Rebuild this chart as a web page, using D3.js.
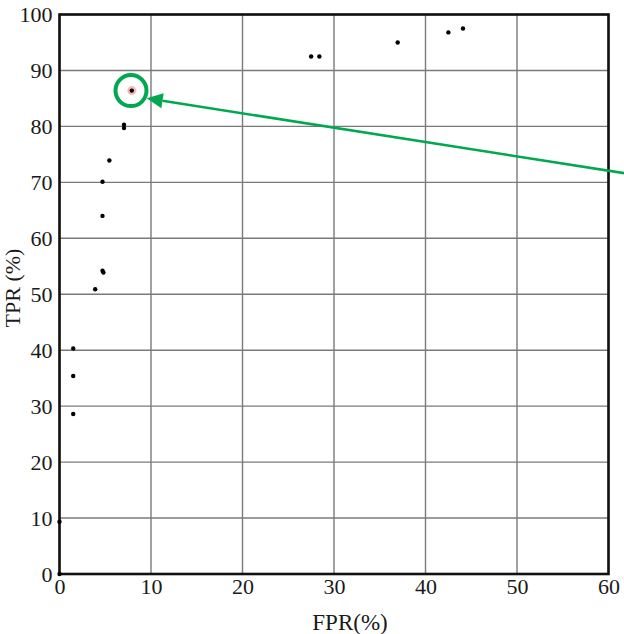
<!DOCTYPE html>
<html><head><meta charset="utf-8">
<script src="https://cdn.jsdelivr.net/npm/d3@7"></script>
<style>body{margin:0;background:#fff}svg{display:block}svg text{font-family:"Liberation Serif","Times New Roman",Tinos,serif}</style>
</head><body>
<script>
const fpr = [0, 0, 1.5, 1.5, 1.5, 3.9, 4.7, 4.8, 4.7, 4.7, 5.45, 7.05, 7.05, 7.9, 27.5, 28.4, 36.96, 42.5, 44.1];
const tpr = [0, 9.35, 28.6, 35.4, 40.3, 50.9, 54.2, 53.9, 64.0, 70.1, 73.9, 80.3, 79.7, 86.4, 92.5, 92.5, 95.0, 96.8, 97.5];
const highlightIndex = 13;
const xTicks = [0, 10, 20, 30, 40, 50, 60];
const yTicks = [0, 10, 20, 30, 40, 50, 60, 70, 80, 90, 100];
const xTitle = "FPR(%)";
const yTitle = "TPR (%)";

const W = 624, H = 634;
const svg = d3.select("body").append("svg").attr("width", W).attr("height", H);
const x = d3.scaleLinear().domain([0, 60]).range([59.5, 608.5]);
const y = d3.scaleLinear().domain([0, 100]).range([574, 14.5]);

// grid
svg.append("g").selectAll("line").data(xTicks).join("line")
  .attr("x1", d => x(d)).attr("x2", d => x(d)).attr("y1", y(0)).attr("y2", y(100))
  .attr("stroke", "#7a7a7a").attr("stroke-width", 1.4);
svg.append("g").selectAll("line").data(yTicks).join("line")
  .attr("y1", d => y(d)).attr("y2", d => y(d)).attr("x1", x(0)).attr("x2", x(60))
  .attr("stroke", "#7a7a7a").attr("stroke-width", 1.4);

// frame
svg.append("rect").attr("x", x(0)).attr("y", y(100)).attr("width", x(60) - x(0)).attr("height", y(0) - y(100))
  .attr("fill", "none").attr("stroke", "#111").attr("stroke-width", 2.6);

// axes labels via d3 axes
const xAxis = svg.append("g").attr("transform", `translate(0,${y(0)})`)
  .call(d3.axisBottom(x).tickValues(xTicks).tickSize(0).tickPadding(4).tickFormat(d3.format("d")));
const yAxis = svg.append("g").attr("transform", `translate(${x(0)},0)`)
  .call(d3.axisLeft(y).tickValues(yTicks).tickSize(0).tickPadding(7).tickFormat(d3.format("d")));
[xAxis, yAxis].forEach(g => {
  g.attr("font-family", null).attr("font-size", null);
  g.select(".domain").remove();
  g.selectAll("text").style("font-size", "22px").attr("fill", "#1a1a1a");
});
yAxis.selectAll("text").attr("dy", "0.33em");

// titles
svg.append("text").attr("x", 350).attr("y", 629.5).attr("text-anchor", "middle")
  .style("font-size", "23px").attr("fill", "#1a1a1a").text(xTitle);
svg.append("text").attr("transform", `translate(20,${288}) rotate(-90)`).attr("text-anchor", "middle")
  .style("font-size", "22px").attr("fill", "#1a1a1a").text(yTitle);

// highlight glow
const hx = x(fpr[highlightIndex]), hy = y(tpr[highlightIndex]);
svg.append("circle").attr("cx", hx).attr("cy", hy).attr("r", 4.5).attr("fill", "#f4a6a6").attr("opacity", 0.8);

// points
svg.append("g").selectAll("circle").data(fpr.map((f, i) => [f, tpr[i]])).join("circle")
  .attr("cx", d => x(d[0])).attr("cy", d => y(d[1])).attr("r", 2.2).attr("fill", "#000");

// green circle and arrow
const green = "#00a84f";
svg.append("circle").attr("cx", hx - 0.8).attr("cy", hy).attr("r", 15.5)
  .attr("fill", "none").attr("stroke", green).attr("stroke-width", 4);
const tip = [146.7, 98.3], tail = [626, 173.5];
const ang = Math.atan2(tail[1] - tip[1], tail[0] - tip[0]);
const L = 16, Wd = 7.5;
const bx = tip[0] + L * Math.cos(ang), by = tip[1] + L * Math.sin(ang);
svg.append("line").attr("x1", bx).attr("y1", by).attr("x2", tail[0]).attr("y2", tail[1])
  .attr("stroke", green).attr("stroke-width", 2.6);
svg.append("path").attr("d", d3.line()([
  tip,
  [bx - Wd * Math.sin(ang), by + Wd * Math.cos(ang)],
  [bx + Wd * Math.sin(ang), by - Wd * Math.cos(ang)]
]) + "Z").attr("fill", green);
</script>
</body></html>
